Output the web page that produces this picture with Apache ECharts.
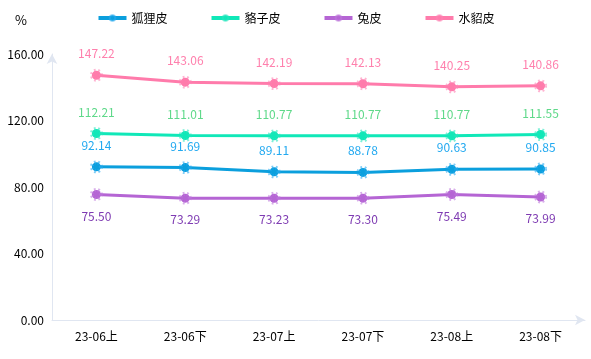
<!DOCTYPE html>
<html><head><meta charset="utf-8">
<script src="https://cdn.jsdelivr.net/npm/echarts@6/dist/echarts.min.js"></script>
<style>html,body{margin:0;padding:0;background:#fff}#c{width:591px;height:359px}</style>
</head><body><div id="c"></div>
<script>
const categories = ['23-06上','23-06下','23-07上','23-07下','23-08上','23-08下'];
const seriesNames = ['狐狸皮','貉子皮','兔皮','水貂皮'];
const fox = [92.14, 91.69, 89.11, 88.78, 90.63, 90.85];
const raccoon = [112.21, 111.01, 110.77, 110.77, 110.77, 111.55];
const rabbit = [75.50, 73.29, 73.23, 73.30, 75.49, 73.99];
const mink = [147.22, 143.06, 142.19, 142.13, 140.25, 140.86];
const yTicks = [0, 40, 80, 120, 160];

const colors = ['#0b9fdd', '#10e8b8', '#b565d4', '#ff7bab'];
const labelColors = ['#22a9f0', '#5fd98a', '#7e3bb2', '#ff80ad'];
const borderColors = ['rgba(40,170,240,0.6)', 'rgba(40,230,190,0.6)', 'rgba(190,120,220,0.6)', 'rgba(255,130,180,0.6)'];
const data = [fox, raccoon, rabbit, mink];
const positions = ['top', 'top', 'bottom', 'top'];
const font = '"Noto Sans CJK SC", "Microsoft YaHei", sans-serif';

const chart = echarts.init(document.getElementById('c'));
chart.setOption({
  animation: false,
  textStyle: {fontFamily: font},
  legend: {
    top: 7, left: 'center', itemWidth: 28, itemHeight: 7, itemGap: 42,
    lineStyle: {width: 4},
    textStyle: {color: '#000', fontSize: 12, fontFamily: font},
    data: seriesNames
  },
  grid: {left: 52, right: 6, top: 54, bottom: 39},
  xAxis: {
    type: 'category', data: categories, boundaryGap: true,
    axisLine: {lineStyle: {color: '#e0e6f1'}, symbol: ['none', 'arrow'], symbolSize: [8, 10]},
    axisTick: {show: false},
    axisLabel: {color: '#000', fontSize: 12, fontFamily: font, margin: 10}
  },
  yAxis: {
    type: 'value', min: yTicks[0], max: yTicks[yTicks.length - 1], interval: 40,
    name: '%', nameLocation: 'end', nameGap: 27,
    nameTextStyle: {color: '#000', fontSize: 13, padding: [0, 62, 0, 0]},
    axisLine: {show: true, lineStyle: {color: '#e0e6f1'}, symbol: ['none', 'arrow'], symbolSize: [8, 10]},
    axisTick: {show: false},
    splitLine: {show: false},
    axisLabel: {color: '#000', fontSize: 12, fontFamily: font, formatter: v => v.toFixed(2)}
  },
  series: seriesNames.map((n, i) => ({
    name: n, type: 'line', data: data[i],
    symbol: 'circle', symbolSize: 9,
    lineStyle: {width: 3, color: colors[i]},
    itemStyle: {color: colors[i], borderColor: borderColors[i], borderWidth: 4, borderType: [1.5, 2.2]},
    label: {
      show: true, position: positions[i], distance: 9,
      color: labelColors[i], fontSize: 12, fontFamily: font,
      formatter: p => p.value.toFixed(2)
    }
  }))
});
</script></body></html>
